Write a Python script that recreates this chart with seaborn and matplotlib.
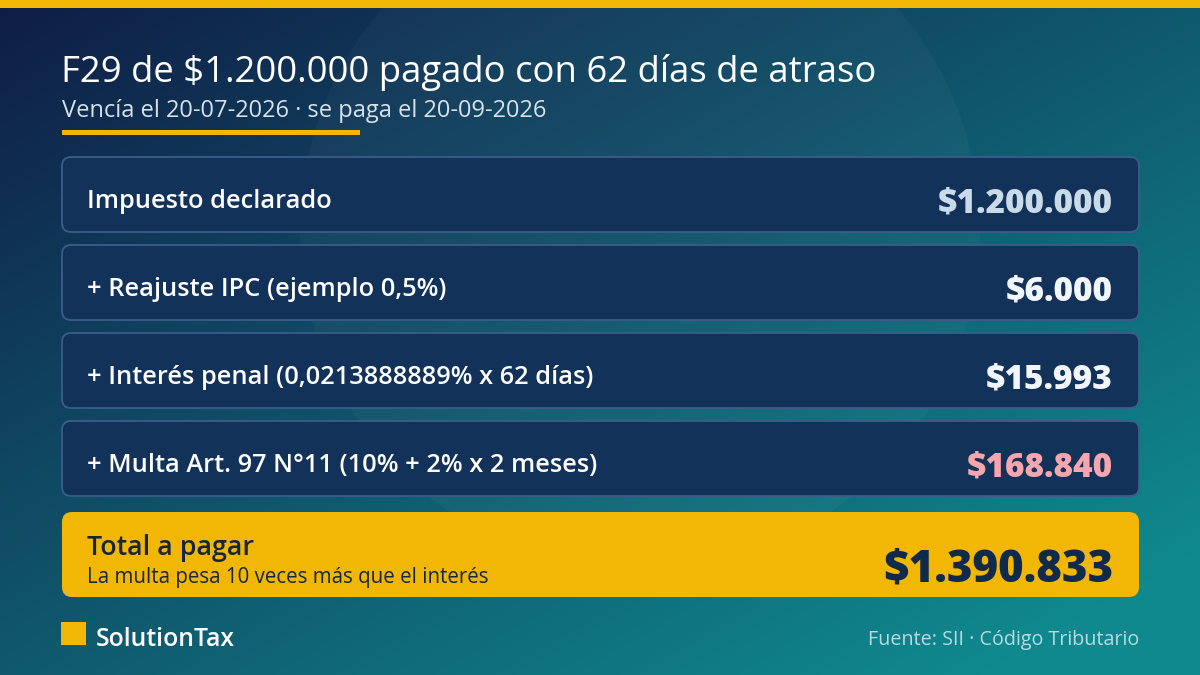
import numpy as np
import seaborn as sns
import matplotlib.pyplot as plt
from matplotlib.patches import FancyBboxPatch, Rectangle, Circle
from matplotlib.colors import to_rgb

# data
title = "F29 de $1.200.000 pagado con 62 días de atraso"
subtitle = "Vencía el 20-07-2026 · se paga el 20-09-2026"
labels = [
    "Impuesto declarado",
    "+ Reajuste IPC (ejemplo 0,5%)",
    "+ Interés penal (0,0213888889% x 62 días)",
    "+ Multa Art. 97 N°11 (10% + 2% x 2 meses)",
]
amounts = [1200000, 6000, 15993, 168840]
total_label = "Total a pagar"
total_note = "La multa pesa 10 veces más que el interés"
brand = "SolutionTax"
source = "Fuente: SII · Código Tributario"

value_colors = ["#c9dae8", "#f2f6fb", "#f2f6fb", "#f6a6ad"]
YELLOW = "#f2b705"
CARD = "#13325a"
CARD_EDGE = "#3b5e88"


def money(v):
    return "$" + f"{v:,}".replace(",", ".")


sns.set_theme(style="white")
plt.rcParams["font.family"] = ["Open Sans", "DejaVu Sans"]

fig = plt.figure(figsize=(12, 6.75), dpi=100)
ax = fig.add_axes([0, 0, 1, 1])
ax.set_xlim(0, 1200)
ax.set_ylim(675, 0)
ax.axis("off")

# background gradient, navy top-left to teal bottom-right
xx, yy = np.meshgrid(np.linspace(0, 1, 300), np.linspace(0, 1, 170))
t = np.clip(0.55 * xx + 0.55 * yy, 0, 1)
c0, c1 = np.array(to_rgb("#0f1d45")), np.array(to_rgb("#10898e"))
img = c0[None, None, :] * (1 - t[..., None]) + c1[None, None, :] * t[..., None]
ax.imshow(img, extent=[0, 1200, 675, 0], aspect="auto", zorder=0)
ax.add_patch(Circle((640, 230), 340, color="white", alpha=0.03, lw=0, zorder=1))

# top bar
ax.add_patch(Rectangle((0, 0), 1200, 8, color=YELLOW, lw=0, zorder=2))

# header
ax.text(61, 82, title, color="white", fontsize=26.3, fontweight="medium",
        ha="left", va="baseline", zorder=3)
ax.text(62, 117, subtitle, color="#d5e2ee", fontsize=17, ha="left", va="baseline", zorder=3)
ax.add_patch(Rectangle((62, 130), 298, 5, color=YELLOW, lw=0, zorder=3))

# rows
left, right = 62, 1139
for i, (lab, amt) in enumerate(zip(labels, amounts)):
    top = 157 + i * 88
    h = 75
    ax.add_patch(FancyBboxPatch((left, top), right - left, h,
                                boxstyle="round,pad=0,rounding_size=9",
                                fc=CARD, ec=CARD_EDGE, lw=1.3, zorder=3))
    ax.text(87, top + 51, lab, color="white", fontsize=18.3, fontweight="semibold",
            ha="left", va="baseline", zorder=4)
    ax.text(1113, top + 55, money(amt), color=value_colors[i], fontsize=24,
            fontweight="heavy", ha="right", va="baseline", zorder=4)

# total
total = sum(amounts)
ax.add_patch(FancyBboxPatch((left, 512), right - left, 85,
                            boxstyle="round,pad=0,rounding_size=10",
                            fc=YELLOW, ec="none", zorder=3))
ax.text(87, 555, total_label, color="#16263a", fontsize=19.3, fontweight="semibold",
        ha="left", va="baseline", zorder=4)
ax.text(87, 583, total_note, color="#16263a", fontsize=14.8, ha="left", va="baseline", zorder=4)
ax.text(1113, 581, money(total), color="#0f2a4a", fontsize=31.5, fontweight="heavy",
        ha="right", va="baseline", zorder=4)

# footer
ax.add_patch(Rectangle((61, 622), 25, 23, color=YELLOW, lw=0, zorder=3))
ax.text(96, 646, brand, color="white", fontsize=17.8, fontweight="semibold",
        ha="left", va="baseline", zorder=4)
ax.text(1139, 645, source, color="#b9d8e2", fontsize=14.2, fontweight="medium",
        ha="right", va="baseline", zorder=4)

fig.savefig("out.png", dpi=100)
